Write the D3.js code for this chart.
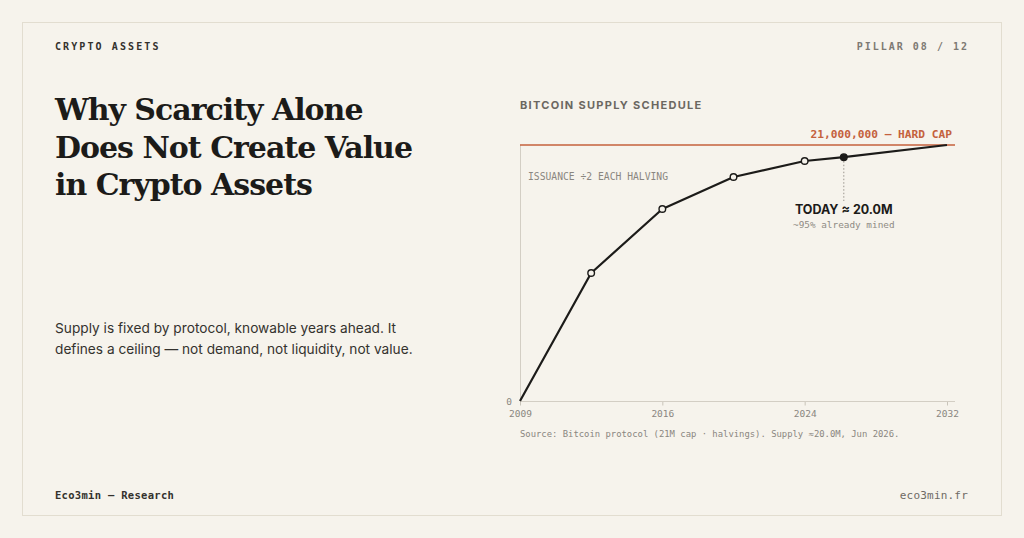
<!DOCTYPE html>
<html lang="en">
<head>
<meta charset="utf-8">
<title>Bitcoin Supply Schedule</title>
<script src="https://cdn.jsdelivr.net/npm/d3@7/dist/d3.min.js"></script>
<style>
  html, body { margin: 0; padding: 0; background: #f6f3ec; }
  svg { display: block; }
</style>
</head>
<body>
<script>
// supply by halving epoch (epoch index: 0 = launch, each halving +1)
var epochs   = [0, 1, 2, 3, 4, 4.55, 6];
var supplyM  = [0, 10.5, 15.75, 18.375, 19.6875, 20.0, 21.0];
var markType = ["none", "halving", "halving", "halving", "halving", "today", "none"];

// x axis ticks
var tickEpochs = [0, 2, 4, 6];
var tickLabels = ["2009", "2016", "2024", "2032"];

var capM = 21;

var titleLines = ["Why Scarcity Alone", "Does Not Create Value", "in Crypto Assets"];
var subLines = ["Supply is fixed by protocol, knowable years ahead. It",
                "defines a ceiling \u2014 not demand, not liquidity, not value."];

var W = 1024, H = 538;
var bg = "#f6f3ec", ink = "#1c1b19", grey = "#8a8680", rust = "#c4613d";
var mono = "'DejaVu Sans Mono', monospace";

var svg = d3.select("body").append("svg")
    .attr("width", W).attr("height", H);

svg.append("rect").attr("width", W).attr("height", H).attr("fill", bg);
svg.append("rect")
    .attr("x", 22.5).attr("y", 22.5).attr("width", 979).attr("height", 493)
    .attr("fill", "none").attr("stroke", "#e2ddd0").attr("stroke-width", 1);

// header / footer
svg.append("text").attr("x", 55).attr("y", 50)
    .text("CRYPTO ASSETS")
    .attr("font-family", mono).attr("font-size", 10).attr("font-weight", "bold")
    .attr("letter-spacing", 2.1).attr("fill", "#33312d");
svg.append("text").attr("x", 969).attr("y", 50).attr("text-anchor", "end")
    .text("PILLAR 08 / 12")
    .attr("font-family", mono).attr("font-size", 10).attr("font-weight", "bold")
    .attr("letter-spacing", 2).attr("fill", "#7d7973");
svg.append("text").attr("x", 55).attr("y", 499)
    .text("Eco3min \u2014 Research")
    .attr("font-family", mono).attr("font-size", 10.5).attr("font-weight", "bold")
    .attr("letter-spacing", 0.3).attr("fill", "#33312d");
svg.append("text").attr("x", 968).attr("y", 499).attr("text-anchor", "end")
    .text("eco3min.fr")
    .attr("font-family", mono).attr("font-size", 11)
    .attr("letter-spacing", 0.2).attr("fill", "#6e6a64");

// title
var title = svg.append("g");
title.selectAll("text").data(titleLines).enter().append("text")
    .attr("x", 55)
    .attr("y", function(d, i) { return 120 + i * 37.5; })
    .text(function(d) { return d; })
    .attr("font-family", "'DejaVu Serif', serif")
    .attr("font-weight", "bold")
    .attr("font-size", 30)
    .attr("fill", ink);
// tighten tracking so the widest line is ~358px
var widestNode = title.selectAll("text").nodes()[1];
var extra = widestNode.getComputedTextLength() - 358;
title.selectAll("text").attr("letter-spacing", -extra / (titleLines[1].length - 1));

svg.append("g").selectAll("text").data(subLines).enter().append("text")
    .attr("x", 55)
    .attr("y", function(d, i) { return 333 + i * 21; })
    .text(function(d) { return d; })
    .attr("font-family", "Inter, 'Noto Sans', sans-serif")
    .attr("font-size", 13.7)
    .attr("fill", "#34322e");

// chart
var cLeft = 520, cRight = 947, cTop = 145, cBottom = 401;

var x = d3.scaleLinear().domain([0, 6]).range([cLeft, cRight]);
var y = d3.scaleLinear().domain([0, capM]).range([cBottom, cTop]);

svg.append("text").attr("x", cLeft).attr("y", 109)
    .text("BITCOIN SUPPLY SCHEDULE")
    .attr("font-family", "Inter, 'Noto Sans', sans-serif")
    .attr("font-size", 11).attr("font-weight", "bold")
    .attr("letter-spacing", 1.3).attr("fill", "#6b6761");

// y axis line + zero label
svg.append("line")
    .attr("x1", cLeft + 0.5).attr("x2", cLeft + 0.5)
    .attr("y1", y(capM)).attr("y2", y(0))
    .attr("stroke", "#d3cec4").attr("stroke-width", 1);

var yAxis = svg.append("g")
    .attr("transform", "translate(" + cLeft + ",0)")
    .call(d3.axisLeft(y).tickValues([0]).tickSize(0).tickPadding(8));
yAxis.select(".domain").remove();
yAxis.selectAll("text").attr("font-family", mono).attr("font-size", 9.5).attr("fill", grey);

// x axis
var xAxis = svg.append("g")
    .attr("transform", "translate(0," + (cBottom + 0.5) + ")")
    .call(d3.axisBottom(x)
        .tickValues(tickEpochs)
        .tickFormat(function(d, i) { return tickLabels[i]; })
        .tickSize(4).tickPadding(5).tickSizeOuter(0));
xAxis.select(".domain").remove();
xAxis.append("line")
    .attr("x1", cLeft).attr("x2", cRight + 8)
    .attr("stroke", "#d3cec4").attr("stroke-width", 1);
xAxis.selectAll(".tick line").attr("stroke", "#c9c4ba");
xAxis.selectAll("text").attr("font-family", mono).attr("font-size", 9.5).attr("fill", grey);

// hard cap line
svg.append("line")
    .attr("x1", cLeft).attr("x2", cRight + 8)
    .attr("y1", y(capM)).attr("y2", y(capM))
    .attr("stroke", rust).attr("stroke-width", 1.6);
svg.append("text")
    .attr("x", cRight + 5).attr("y", y(capM) - 7)
    .attr("text-anchor", "end")
    .text("21,000,000 \u2014 HARD CAP")
    .attr("font-family", mono).attr("font-size", 11.2).attr("font-weight", "bold")
    .attr("fill", rust);

svg.append("text")
    .attr("x", cLeft + 8).attr("y", 180)
    .text("ISSUANCE \u00f72 EACH HALVING")
    .attr("font-family", mono).attr("font-size", 9.7)
    .attr("fill", grey);

// supply curve
var pts = epochs.map(function(e, i) { return { e: e, s: supplyM[i], t: markType[i] }; });

var line = d3.line()
    .x(function(d) { return x(d.e); })
    .y(function(d) { return y(d.s); });

svg.append("path")
    .datum(pts)
    .attr("d", line)
    .attr("fill", "none")
    .attr("stroke", ink)
    .attr("stroke-width", 2.2)
    .attr("stroke-linejoin", "round");

var today = pts.filter(function(d) { return d.t == "today"; })[0];

// dotted leader from today
svg.append("line")
    .attr("x1", x(today.e)).attr("x2", x(today.e))
    .attr("y1", y(today.s) + 4).attr("y2", 201)
    .attr("stroke", "#9a958e").attr("stroke-width", 1)
    .attr("stroke-dasharray", "1.5,2");

svg.selectAll("circle.mark")
    .data(pts.filter(function(d) { return d.t != "none"; }))
    .enter().append("circle")
    .attr("class", "mark")
    .attr("cx", function(d) { return x(d.e); })
    .attr("cy", function(d) { return y(d.s); })
    .attr("r", 3.3)
    .attr("fill", function(d) { return d.t == "today" ? ink : bg; })
    .attr("stroke", ink)
    .attr("stroke-width", 1.4);

svg.append("text")
    .attr("x", x(today.e)).attr("y", 214)
    .attr("text-anchor", "middle")
    .text("TODAY \u2248 20.0M")
    .attr("font-family", "Inter, 'Noto Sans', sans-serif")
    .attr("font-size", 12.5).attr("font-weight", "bold")
    .attr("fill", ink);
svg.append("text")
    .attr("x", x(today.e)).attr("y", 228)
    .attr("text-anchor", "middle")
    .text("~95% already mined")
    .attr("font-family", mono).attr("font-size", 9.4)
    .attr("fill", "#8f8b84");

// source
svg.append("text")
    .attr("x", cLeft).attr("y", 437)
    .text("Source: Bitcoin protocol (21M cap \u00b7 halvings). Supply \u224820.0M, Jun 2026.")
    .attr("font-family", mono).attr("font-size", 8.9)
    .attr("fill", grey);
</script>
</body>
</html>
